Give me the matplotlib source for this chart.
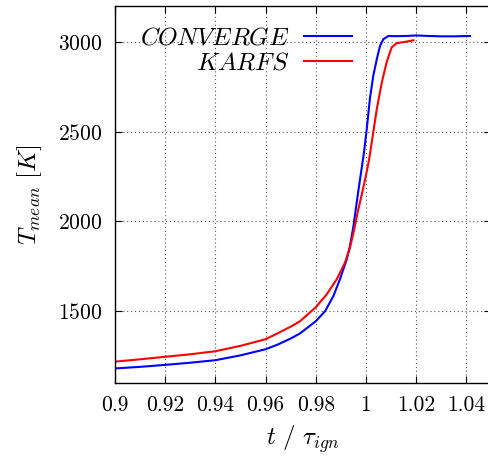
import numpy as np
import matplotlib
matplotlib.use("Agg")
import matplotlib.pyplot as plt

plt.rcParams['font.family'] = 'serif'
plt.rcParams['font.serif'] = ['cmr10']
plt.rcParams['mathtext.fontset'] = 'cm'
plt.rcParams['axes.formatter.use_mathtext'] = True

# CONVERGE curve
t_converge = [0.9, 0.91, 0.92, 0.93, 0.94, 0.95, 0.96, 0.965, 0.97, 0.9737,
              0.98, 0.9837, 0.987, 0.9896, 0.9923, 0.9936, 0.9949, 0.9959,
              0.9969, 0.998, 0.9992, 1.0003, 1.0016, 1.0029, 1.0043, 1.0056,
              1.0069, 1.0089, 1.012, 1.016, 1.02, 1.025, 1.03, 1.035, 1.0414]
T_converge = [1181, 1190, 1201, 1213, 1227, 1254, 1288, 1315, 1348, 1376,
              1444, 1500, 1584, 1677, 1788, 1862, 1965, 2065,
              2165, 2270, 2385, 2515, 2690, 2811, 2904, 2978,
              3015, 3033, 3032, 3033, 3036, 3033, 3031, 3031, 3033]

# KARFS curve
t_karfs = [0.9, 0.91, 0.92, 0.93, 0.94, 0.95, 0.96, 0.965, 0.97, 0.9737,
           0.98, 0.9843, 0.9883, 0.9916, 0.9936, 0.9953, 0.9965, 0.9983,
           0.9999, 1.0013, 1.0027, 1.0043, 1.0063, 1.0082, 1.0102, 1.0122,
           1.0155, 1.0189]
T_karfs = [1219, 1232, 1246, 1260, 1277, 1307, 1344, 1378, 1414, 1444,
           1522, 1593, 1677, 1770, 1853, 1955, 2040, 2150,
           2250, 2350, 2478, 2626, 2774, 2886, 2969, 2993,
           3000, 3009]

xticks = [0.9, 0.92, 0.94, 0.96, 0.98, 1.0, 1.02, 1.04]
xtick_labels = ['0.9', '0.92', '0.94', '0.96', '0.98', '1', '1.02', '1.04']
yticks = [1500, 2000, 2500, 3000]

fig = plt.figure(figsize=(4.89, 4.57), dpi=100)
ax = fig.add_axes([115 / 489, 74 / 457, 376.5 / 489, 377 / 457])

ax.plot(t_converge, T_converge, color='blue', lw=1.5, label=r'$CONVERGE$')
ax.plot(t_karfs, T_karfs, color='red', lw=1.5, label=r'$KARFS$')

ax.set_xlim(0.9, 1.05)
ax.set_ylim(1100, 3200)
ax.set_xticks(xticks)
ax.set_xticklabels(xtick_labels)
ax.set_yticks(yticks)
ax.tick_params(direction='in', top=True, right=True, length=5, width=0.8,
               labelsize=15.5, pad=9)
ax.grid(True, color='#555555', linestyle=(0, (1, 2.5)), linewidth=0.8)
for s in ax.spines.values():
    s.set_linewidth(1.0)

ax.set_xlabel(r'$t\ /\ \tau_{ign}$', fontsize=18, labelpad=6)
ax.set_ylabel(r'$T_{mean}\ [K]$', fontsize=18, labelpad=10)

ax.legend(loc='upper right', bbox_to_anchor=((352 - 115) / 376.5, 1 - 21 / 377),
          frameon=False, markerfirst=False, fontsize=18, handlelength=1.9,
          handletextpad=0.6, labelspacing=0.12, borderaxespad=0.0, borderpad=0.0)

fig.savefig('out.png', dpi=100)
